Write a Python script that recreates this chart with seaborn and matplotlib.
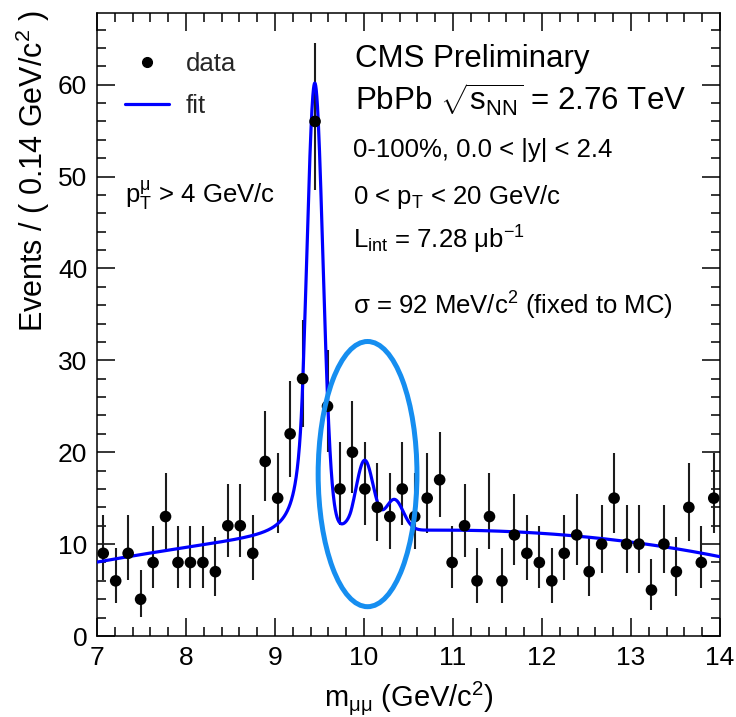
import numpy as np
import pandas as pd
import matplotlib
matplotlib.use("Agg")
import matplotlib.pyplot as plt
import seaborn as sns
from matplotlib.patches import Ellipse
from matplotlib.lines import Line2D
from matplotlib.ticker import MultipleLocator

# ---------------- data ----------------
mass_bins = [7.07, 7.21, 7.35, 7.49, 7.63, 7.77, 7.91, 8.05, 8.19, 8.33,
             8.47, 8.61, 8.75, 8.89, 9.03, 9.17, 9.31, 9.45, 9.59, 9.73,
             9.87, 10.01, 10.15, 10.29, 10.43, 10.57, 10.71, 10.85, 10.99, 11.13,
             11.27, 11.41, 11.55, 11.69, 11.83, 11.97, 12.11, 12.25, 12.39, 12.53,
             12.67, 12.81, 12.95, 13.09, 13.23, 13.37, 13.51, 13.65, 13.79, 13.93]
counts = [9, 6, 9, 4, 8, 13, 8, 8, 8, 7,
          12, 12, 9, 19, 15, 22, 28, 56, 25, 16,
          20, 16, 14, 13, 16, 13, 15, 17, 8, 12,
          6, 13, 6, 11, 9, 8, 6, 9, 11, 7,
          10, 15, 10, 10, 5, 10, 7, 14, 8, 15]

# fit model parameters
peak_mass = [9.447, 10.006, 10.34]
peak_amp = [49.0, 7.6, 3.4]
peak_sigma = [0.092, 0.0975, 0.1005]
cb_alpha = 1.5
cb_n = 2.0
bkg_mass = [7.0, 7.6, 8.04, 8.34, 8.72, 9.75, 10.7, 11.5, 12.38, 13.32, 14.0]
bkg_level = [7.9, 9.05, 9.7, 10.0, 10.15, 11.2, 11.54, 11.36, 11.0, 9.72, 8.64]

# ---------------- style ----------------
sns.set_theme(style="ticks")
plt.rcParams["font.family"] = ["Liberation Sans", "DejaVu Sans"]
plt.rcParams["mathtext.fontset"] = "custom"
plt.rcParams["mathtext.rm"] = "Liberation Sans"
plt.rcParams["mathtext.it"] = "Liberation Sans"
plt.rcParams["mathtext.sf"] = "Liberation Sans"
plt.rcParams["mathtext.bf"] = "Liberation Sans"
plt.rcParams["mathtext.default"] = "regular"

W, H = 736, 717
fig = plt.figure(figsize=(W / 100, H / 100), dpi=100)
ax = fig.add_axes([97 / W, 1 - 636 / H, (720 - 97) / W, (636 - 13) / H])
ax.set_facecolor("white")

df = pd.DataFrame({"mass": mass_bins, "count": counts})
n = df["count"].to_numpy(dtype=float)
err_hi = np.sqrt(n + 0.75) + 1.0
err_lo = n - np.maximum(n - np.sqrt(np.maximum(n - 0.25, 0)), 0)

# fit curve
def crystal_ball(x, m0, s, a, nn):
    t = (x - m0) / s
    A = (nn / a) ** nn * np.exp(-a * a / 2)
    B = nn / a - a
    tail = A * (B - np.minimum(t, -a)) ** (-nn)
    return np.where(t > -a, np.exp(-t * t / 2), tail)

xs = np.linspace(7.0, 14.0, 2801)
bcoef = np.polyfit(bkg_mass, bkg_level, 3)
fit = np.polyval(bcoef, xs)
for m0, amp, s in zip(peak_mass, peak_amp, peak_sigma):
    fit = fit + amp * crystal_ball(xs, m0, s, cb_alpha, cb_n)
fit_df = pd.DataFrame({"mass": xs, "fit": fit})

ax.errorbar(df["mass"], df["count"], yerr=[err_lo, err_hi], fmt="none",
            ecolor="#1c1c1c", elinewidth=1.5, capsize=0, zorder=2)
sns.lineplot(data=fit_df, x="mass", y="fit", ax=ax, color="#0000ff",
             linewidth=2.3, zorder=3, sort=False, estimator=None)
sns.scatterplot(data=df, x="mass", y="count", ax=ax, color="black",
                s=70, edgecolor="none", linewidth=0, zorder=4)

# highlight ellipse
ax.add_patch(Ellipse((10.04, 17.62), 1.11, 28.86, fill=False,
                     edgecolor="#168ef0", linewidth=3.6, zorder=5))

# axes
ax.set_xlim(7, 14)
ax.set_ylim(0, 67.8)
ax.xaxis.set_major_locator(MultipleLocator(1))
ax.xaxis.set_minor_locator(MultipleLocator(0.2))
ax.yaxis.set_major_locator(MultipleLocator(10))
ax.yaxis.set_minor_locator(MultipleLocator(2))
ax.tick_params(which="both", direction="in", top=True, right=True,
               color="black", width=1.1, labelsize=19, labelcolor="black")
ax.tick_params(which="major", length=13, pad=7)
ax.tick_params(which="minor", length=6.5)
for sp in ax.spines.values():
    sp.set_color("black")
    sp.set_linewidth(1.1)

ax.set_xlabel("m$_{μμ}$ (GeV/c$^{2}$)", fontsize=21, color="black")
ax.xaxis.set_label_coords(0.5, -0.07)
ax.set_ylabel("Events / ( 0.14 GeV/c$^{2}$ )", fontsize=22, color="black", ha="right")
ax.yaxis.set_label_coords(-0.072, 1.005)

# legend
handles = [Line2D([], [], marker="o", ls="none", color="black", markersize=7),
           Line2D([], [], color="#0000ff", linewidth=2.3)]
ax.legend(handles, ["data", "fit"], loc="upper left", bbox_to_anchor=(0.045, 0.937),
          frameon=False, fontsize=18.5, handlelength=1.7, handletextpad=0.65,
          labelspacing=0.68, borderpad=0, borderaxespad=0)

def ftext(x, y, s, size):
    fig.text(x / W, 1 - y / H, s, fontsize=size, va="baseline", ha="left", color="black")

ftext(355, 66.5, "CMS Preliminary", 22.5)
ftext(355, 111, "PbPb $\\sqrt{s_{NN}}$ = 2.76 TeV", 22.5)
ftext(353, 156.5, "0-100%, 0.0 < |y| < 2.4", 18.5)
ftext(353, 204, "0 < p$_{T}$ < 20 GeV/c", 18.5)
ftext(353, 249, "L$_{int}$ = 7.28 μb$^{-1}$", 18.5)
ftext(353, 315, "σ = 92 MeV/c$^{2}$ (fixed to MC)", 18.5)
ftext(125, 203, "p$_{T}^{μ}$ > 4 GeV/c", 18.5)

fig.savefig("out.png", dpi=100, facecolor="white")
